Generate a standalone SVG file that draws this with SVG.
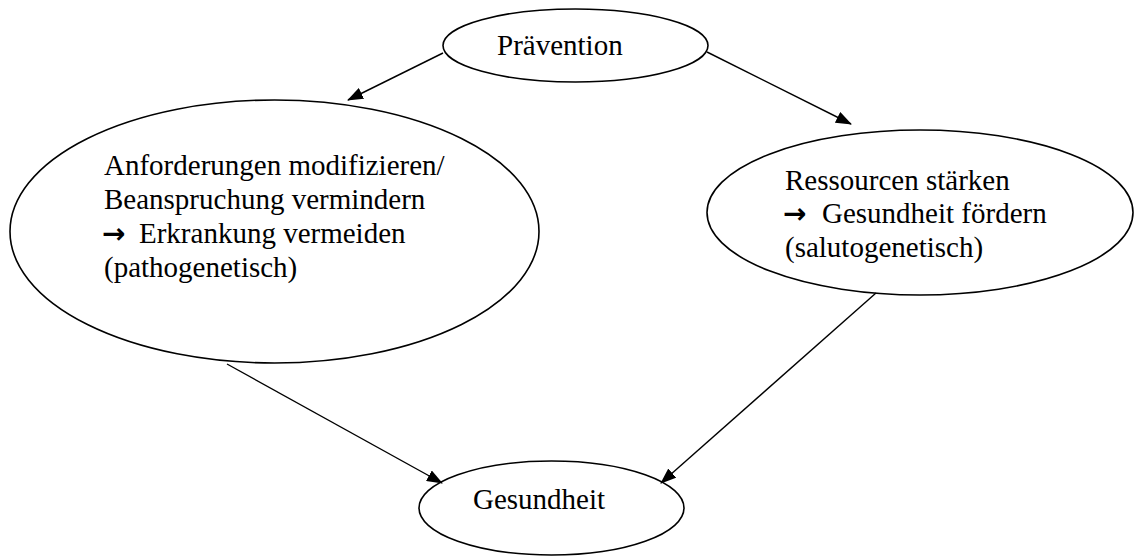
<svg xmlns="http://www.w3.org/2000/svg" width="1135" height="556" viewBox="0 0 1135 556">
<style>
.node{fill:#fff;stroke:#000;stroke-width:1.6}
.t{font-family:"Liberation Serif","Times New Roman",serif;fill:#000;font-size:29px}
.arr{font-family:"DejaVu Sans",sans-serif;font-weight:bold;font-size:28px}
.edge{stroke:#000;stroke-width:1.4;fill:none;marker-end:url(#ah)}
</style>
<defs>
<marker id="ah" markerUnits="userSpaceOnUse" markerWidth="16" markerHeight="12" refX="15" refY="6" orient="auto">
<path d="M0,0 L16,6 L0,12 z" fill="#000"/>
</marker>
</defs>
<rect width="1135" height="556" fill="#fff"/>
<g id="praevention">
<ellipse class="node" cx="575.5" cy="45.5" rx="132.5" ry="36.5"/>
<text class="t" x="497" y="55">Prävention</text>
</g>
<g id="pathogenetisch">
<ellipse class="node" cx="274.5" cy="231.5" rx="264.5" ry="131.5"/>
<text class="t">
<tspan x="104" y="175">Anforderungen modifizieren/</tspan>
<tspan x="104" y="209">Beanspruchung vermindern</tspan>
<tspan x="102" y="243" class="arr">→</tspan><tspan x="139" y="243">Erkrankung vermeiden</tspan>
<tspan x="104" y="277">(pathogenetisch)</tspan>
</text>
</g>
<g id="salutogenetisch">
<ellipse class="node" cx="920" cy="212.5" rx="213" ry="82.5"/>
<text class="t">
<tspan x="785" y="190">Ressourcen stärken</tspan>
<tspan x="783" y="223" class="arr">→</tspan><tspan x="822" y="223">Gesundheit fördern</tspan>
<tspan x="785" y="257">(salutogenetisch)</tspan>
</text>
</g>
<g id="gesundheit">
<ellipse class="node" cx="551.5" cy="508" rx="132.5" ry="47"/>
<text class="t" x="473" y="509">Gesundheit</text>
</g>
<g id="connectors">
<line class="edge" x1="443" y1="53" x2="348" y2="100"/>
<line class="edge" x1="707" y1="52" x2="851" y2="124"/>
<line class="edge" x1="227" y1="364" x2="442" y2="483"/>
<line class="edge" x1="876" y1="293" x2="661" y2="483"/>
</g>
</svg>
